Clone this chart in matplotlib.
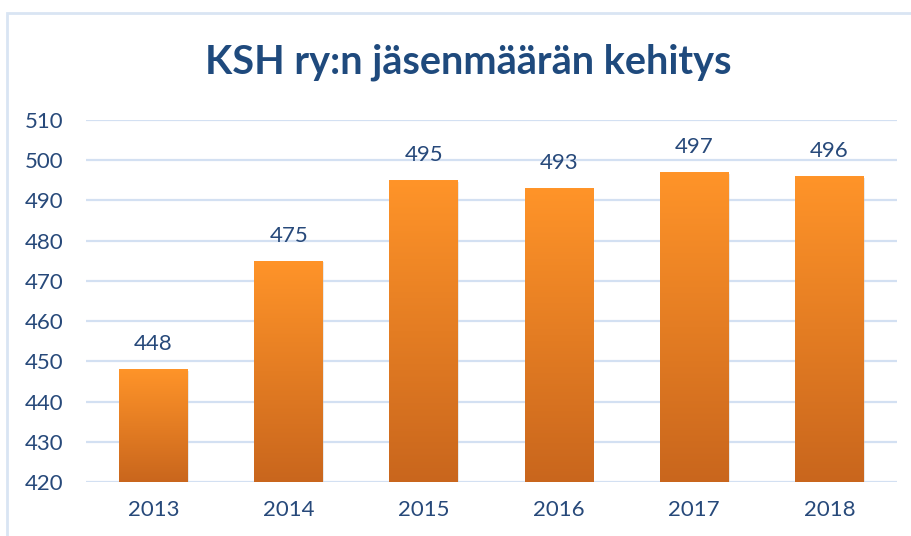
import numpy as np
import matplotlib.pyplot as plt
from matplotlib.patches import Rectangle
from matplotlib.colors import LinearSegmentedColormap

vuodet = ['2013', '2014', '2015', '2016', '2017', '2018']
jasenet = [448, 475, 495, 493, 497, 496]
y_ticks = list(range(420, 511, 10))

tekstivari = '#27497A'
ruudukko = '#D3E0F2'

plt.rcParams['font.family'] = ['Lato', 'DejaVu Sans']

fig = plt.figure(figsize=(9.12, 5.36), dpi=100)
ax = fig.add_axes([86 / 912, 54 / 536, 811 / 912, 362 / 536])

# kehys kaavion ympärillä (kuvasta rajattu oikealta ja alhaalta)
fig.patches.append(Rectangle((7 / 912, -0.1), 1.0, (536 - 13) / 536 + 0.1,
                             transform=fig.transFigure, fill=False,
                             edgecolor='#D9E5F3', linewidth=2))

x = np.arange(len(vuodet))
leveys = 0.51

gradientti = LinearSegmentedColormap.from_list('oranssi', ['#C9661D', '#FF9429'])
grad = np.linspace(0, 1, 256).reshape(-1, 1)

for xi, arvo in zip(x, jasenet):
    # pieni varjo
    ax.add_patch(Rectangle((xi - leveys / 2 + 0.006, 419.6), leveys, arvo - 420,
                           facecolor='#C8C8C8', alpha=0.4, edgecolor='none', zorder=2))
    palkki = ax.bar(xi, arvo - 420, bottom=420, width=leveys, color='none', zorder=3)[0]
    im = ax.imshow(grad, cmap=gradientti, aspect='auto', origin='lower',
                   extent=[xi - leveys / 2, xi + leveys / 2, 420, arvo], zorder=3)
    im.set_clip_path(palkki)
    ax.annotate(str(arvo), (xi, arvo), xytext=(0, 11), textcoords='offset points',
                ha='center', va='bottom', fontsize=16, color=tekstivari)

ax.set_xlim(-0.5, len(vuodet) - 0.5)
ax.set_ylim(420, 510)
ax.set_xticks(x)
ax.set_xticklabels(vuodet)
ax.set_yticks(y_ticks)
ax.tick_params(axis='both', length=0, labelsize=16, labelcolor=tekstivari)
ax.tick_params(axis='x', pad=13)
ax.tick_params(axis='y', pad=16)

ax.grid(axis='y', color=ruudukko, linewidth=1.6, zorder=0)
ax.set_axisbelow(True)
for s in ax.spines.values():
    s.set_visible(False)

fig.text(468 / 912, (536 - 62) / 536, 'KSH ry:n jäsenmäärän kehitys',
         ha='center', va='center', fontsize=28.5, fontweight='bold', color='#1F4A7D')

fig.savefig('out.png', dpi=100)
